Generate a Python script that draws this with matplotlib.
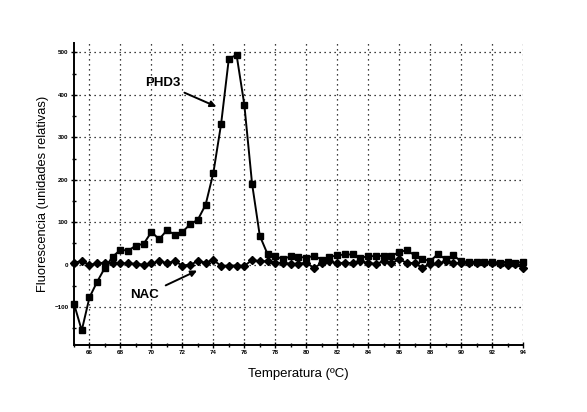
import numpy as np
import matplotlib.pyplot as plt
from matplotlib.ticker import MultipleLocator

plt.rcParams['font.family'] = ['Liberation Sans', 'DejaVu Sans']

# Temperatura cada 0.5 ºC
temperatura = np.arange(65, 94.01, 0.5)

# Fluorescencia PHD3
phd3 = [-92, -155, -77, -40, -7, 19, 35, 33, 45, 49,
        77, 60, 81, 71, 77, 95, 106, 141, 216, 331,
        485, 494, 377, 191, 68, 25, 20, 13, 20, 19,
        16, 21, 12, 18, 22, 24, 24, 16, 20, 20,
        21, 20, 30, 34, 22, 14, 8, 25, 13, 22,
        8, 7, 7, 7, 7, 5, 7, 5, 6]

# Fluorescencia NAC
nac = [5, 8, 0, 3, 5, 5, 3, 3, 2, 0,
       3, 8, 4, 8, -2, 0, 8, 5, 11, -3,
       -2, -2, -3, 11, 8, 8, 3, 5, 2, 2,
       5, -8, 4, 8, 3, 5, 3, 8, 4, 2,
       8, 3, 13, 4, 4, -8, 2, 3, 8, 3,
       5, 4, 5, 3, 5, 2, 0, 2, -8]

fig = plt.figure(figsize=(5.87, 4.12), dpi=100)
ax = fig.add_axes([74 / 587, 1 - 344.5 / 412, 449 / 587, (344.5 - 43) / 412])

ax.plot(temperatura, phd3, color='black', lw=1.4, marker='s', ms=5,
        clip_on=False, zorder=3)
ax.plot(temperatura, nac, color='black', lw=1.4, marker='D', ms=4,
        clip_on=False, zorder=3)

ax.set_xlim(65, 94)
ax.set_ylim(-188, 522)

ax.xaxis.set_major_locator(MultipleLocator(2))
ax.xaxis.set_minor_locator(MultipleLocator(1))
ax.yaxis.set_major_locator(MultipleLocator(100))
ax.yaxis.set_minor_locator(MultipleLocator(50))
ax.set_xticks(np.arange(66, 95, 2))

ax.grid(True, which='major', linestyle=(0, (1, 3)), color='black', lw=0.9)
for s in ['top', 'right']:
    ax.spines[s].set_visible(False)
for s in ['left', 'bottom']:
    ax.spines[s].set_linewidth(1.4)

ax.tick_params(which='both', direction='inout', width=1, labelsize=4.5,
               pad=2)
ax.tick_params(which='major', length=4)
ax.tick_params(which='minor', length=3)
for lab in ax.get_xticklabels() + ax.get_yticklabels():
    lab.set_fontweight('bold')

ax.set_xlabel('Temperatura (ºC)', fontsize=9.5, labelpad=9)
ax.set_ylabel('Fluorescencia (unidades relativas)', fontsize=9.3, labelpad=4)

ax.annotate('PHD3', xy=(74.2, 372), xytext=(71.9, 427), fontsize=9.5,
            fontweight='bold', ha='right', va='center',
            arrowprops=dict(arrowstyle='-|>', color='black', lw=1.4,
                            mutation_scale=9, shrinkA=1, shrinkB=0))
ax.annotate('NAC', xy=(72.95, -14), xytext=(70.5, -72), fontsize=9.5,
            fontweight='bold', ha='right', va='center',
            arrowprops=dict(arrowstyle='-|>', color='black', lw=1.4,
                            mutation_scale=9, shrinkA=3, shrinkB=0))

fig.savefig('out.png', dpi=100)
